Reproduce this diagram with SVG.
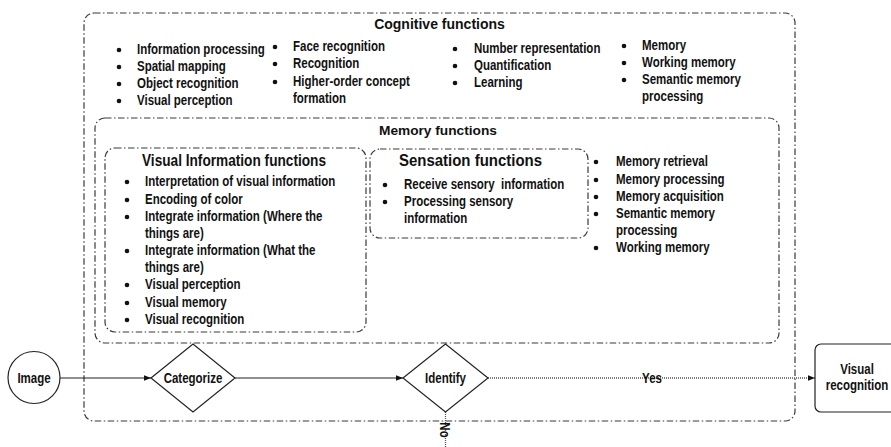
<svg xmlns="http://www.w3.org/2000/svg" width="891" height="447" viewBox="0 0 891 447">
<defs>
<style>
.box{fill:none;stroke:#3a3a3a;stroke-width:1.2;stroke-dasharray:6.5 2.5 1.5 2.5}
.t{font-family:"Liberation Sans",Arial,sans-serif;font-weight:bold;font-size:14.2px;fill:#111}
.h{font-family:"Liberation Sans",Arial,sans-serif;font-weight:bold;fill:#111}
.b{fill:#111}
.solid{fill:none;stroke:#222;stroke-width:1.2}
.dot{fill:none;stroke:#555;stroke-width:1.3;stroke-dasharray:1 1}
.shape{fill:#fff;stroke:#222;stroke-width:1.2}
</style>
<marker id="arr" viewBox="0 0 10 10" refX="10" refY="5" markerWidth="7" markerHeight="7" markerUnits="userSpaceOnUse" orient="auto">
<path d="M0,1 L10,5 L0,9 z" fill="#111"/>
</marker>
</defs>
<rect width="891" height="447" fill="#fff"/>

<g id="cognitive">
<rect class="box" x="84" y="13" width="711" height="408" rx="10"/>
<text class="h" x="439.5" y="29" font-size="14" text-anchor="middle">Cognitive functions</text>
<g class="b">
<circle cx="119" cy="50" r="2.3"/><circle cx="119" cy="67" r="2.3"/><circle cx="119" cy="84" r="2.3"/><circle cx="119" cy="101" r="2.3"/>
<circle cx="275" cy="47" r="2.3"/><circle cx="275" cy="64" r="2.3"/><circle cx="275" cy="82" r="2.3"/>
<circle cx="455" cy="49" r="2.3"/><circle cx="455" cy="66" r="2.3"/><circle cx="455" cy="83" r="2.3"/>
<circle cx="624" cy="46" r="2.3"/><circle cx="624" cy="63" r="2.3"/><circle cx="624" cy="80" r="2.3"/>
</g>
<g transform="translate(137,0) scale(0.81,1)">
<text class="t" x="0" y="54">Information processing</text>
<text class="t" x="0" y="71">Spatial mapping</text>
<text class="t" x="0" y="88">Object recognition</text>
<text class="t" x="0" y="105">Visual perception</text>
</g>
<g transform="translate(293,0) scale(0.81,1)">
<text class="t" x="0" y="51">Face recognition</text>
<text class="t" x="0" y="68">Recognition</text>
<text class="t" x="0" y="86">Higher-order concept</text>
<text class="t" x="0" y="103">formation</text>
</g>
<g transform="translate(474,0) scale(0.81,1)">
<text class="t" x="0" y="53">Number representation</text>
<text class="t" x="0" y="70">Quantification</text>
<text class="t" x="0" y="87">Learning</text>
</g>
<g transform="translate(642,0) scale(0.81,1)">
<text class="t" x="0" y="50">Memory</text>
<text class="t" x="0" y="67">Working memory</text>
<text class="t" x="0" y="84">Semantic memory</text>
<text class="t" x="0" y="101">processing</text>
</g>
</g>

<g id="memory">
<rect class="box" x="95" y="118" width="684" height="225" rx="10"/>
<text class="h" x="379" y="135" font-size="13.7">Memory functions</text>
<g class="b">
<circle cx="596" cy="162" r="2.3"/><circle cx="596" cy="180" r="2.3"/><circle cx="596" cy="197" r="2.3"/><circle cx="596" cy="214" r="2.3"/><circle cx="596" cy="248" r="2.3"/>
</g>
<g transform="translate(616,0) scale(0.81,1)">
<text class="t" x="0" y="166">Memory retrieval</text>
<text class="t" x="0" y="184">Memory processing</text>
<text class="t" x="0" y="201">Memory acquisition</text>
<text class="t" x="0" y="218">Semantic memory</text>
<text class="t" x="0" y="235">processing</text>
<text class="t" x="0" y="252">Working memory</text>
</g>
</g>

<g id="visual-information">
<rect class="box" x="105" y="148" width="261" height="184" rx="10"/>
<text class="h" x="142" y="166" font-size="16.5" textLength="184" lengthAdjust="spacingAndGlyphs">Visual Information functions</text>
<g class="b">
<circle cx="127" cy="182" r="2.3"/><circle cx="127" cy="200" r="2.3"/><circle cx="127" cy="217" r="2.3"/><circle cx="127" cy="251" r="2.3"/><circle cx="127" cy="285" r="2.3"/><circle cx="127" cy="303" r="2.3"/><circle cx="127" cy="320" r="2.3"/>
</g>
<g transform="translate(145,0) scale(0.81,1)">
<text class="t" x="0" y="186">Interpretation of visual information</text>
<text class="t" x="0" y="204">Encoding of color</text>
<text class="t" x="0" y="221">Integrate information (Where the</text>
<text class="t" x="0" y="238">things are)</text>
<text class="t" x="0" y="255">Integrate information (What the</text>
<text class="t" x="0" y="272">things are)</text>
<text class="t" x="0" y="289">Visual perception</text>
<text class="t" x="0" y="307">Visual memory</text>
<text class="t" x="0" y="324">Visual recognition</text>
</g>
</g>

<g id="sensation">
<rect class="box" x="370" y="149" width="218" height="89" rx="10"/>
<text class="h" x="399" y="166" font-size="16.5" textLength="143" lengthAdjust="spacingAndGlyphs">Sensation functions</text>
<g class="b">
<circle cx="385" cy="185" r="2.3"/><circle cx="385" cy="202" r="2.3"/>
</g>
<g transform="translate(404,0) scale(0.81,1)">
<text class="t" x="0" y="189" xml:space="preserve">Receive sensory  information</text>
<text class="t" x="0" y="206">Processing sensory</text>
<text class="t" x="0" y="223">information</text>
</g>
</g>

<g id="connectors">
<line class="solid" x1="60" y1="378" x2="151" y2="378" marker-end="url(#arr)"/>
<line class="solid" x1="235" y1="378" x2="403" y2="378" marker-end="url(#arr)"/>
<line class="dot" x1="488" y1="378" x2="815" y2="378" marker-end="url(#arr)"/>
<line class="dot" x1="445.5" y1="412" x2="445.5" y2="447"/>
<g transform="translate(652,0) scale(0.81,1)"><text class="t" x="0" y="383" text-anchor="middle">Yes</text></g>
<g transform="translate(445.5,430) rotate(90) scale(0.81,1)"><text class="t" x="0" y="5" text-anchor="middle">No</text></g>
</g>

<g id="image">
<circle class="shape" cx="34" cy="377.5" r="26"/>
<g transform="translate(34,0) scale(0.81,1)"><text class="t" x="0" y="383" text-anchor="middle">Image</text></g>
</g>

<g id="categorize">
<polygon class="shape" points="151,378 193,344 235,378 193,412"/>
<g transform="translate(193,0) scale(0.81,1)"><text class="t" x="0" y="383" text-anchor="middle">Categorize</text></g>
</g>

<g id="identify">
<polygon class="shape" points="403,378 445.5,344 488,378 445.5,412"/>
<g transform="translate(445.5,0) scale(0.81,1)"><text class="t" x="0" y="383" text-anchor="middle">Identify</text></g>
</g>

<g id="visual-recognition">
<rect class="shape" x="815" y="344" width="90" height="68" rx="6"/>
<g transform="translate(857,0) scale(0.81,1)">
<text class="t" x="0" y="374" text-anchor="middle">Visual</text>
<text class="t" x="0" y="390" text-anchor="middle">recognition</text>
</g>
</g>
</svg>
